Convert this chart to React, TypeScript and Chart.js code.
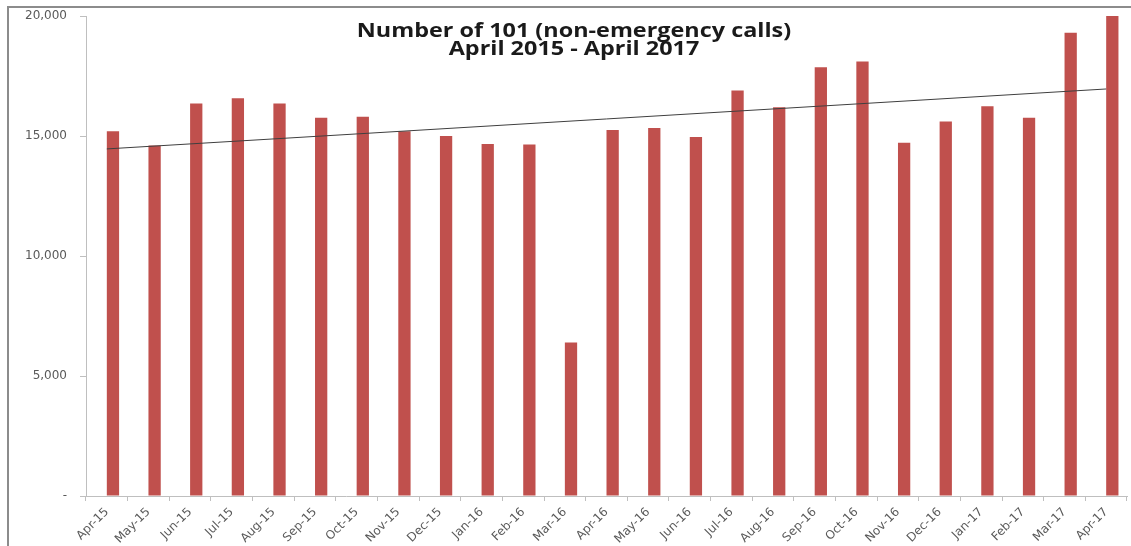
import React, { useEffect, useRef } from 'react';
import { Chart, registerables } from 'chart.js';

Chart.register(...registerables);

// Monthly 101 call volumes, April 2015 to April 2017
const months = [
  'Apr-15', 'May-15', 'Jun-15', 'Jul-15', 'Aug-15', 'Sep-15', 'Oct-15', 'Nov-15', 'Dec-15',
  'Jan-16', 'Feb-16', 'Mar-16', 'Apr-16', 'May-16', 'Jun-16', 'Jul-16', 'Aug-16', 'Sep-16',
  'Oct-16', 'Nov-16', 'Dec-16', 'Jan-17', 'Feb-17', 'Mar-17', 'Apr-17',
];

const calls = [
  15200, 14600, 16350, 16570, 16350, 15760, 15800, 15200, 15000,
  14670, 14650, 6400, 15250, 15330, 14960, 16900, 16200, 17860,
  18100, 14720, 15600, 16240, 15760, 19300, 20000,
];

const yTicks = [0, 5000, 10000, 15000, 20000];

const titleLines = ['Number of 101 (non-emergency calls)', 'April 2015 - April 2017'];

// Least-squares linear trend through the monthly values (drawn end to end)
function linearTrend(values: number[]): (number | null)[] {
  const n = values.length;
  const meanX = (n - 1) / 2;
  const meanY = values.reduce((s, v) => s + v, 0) / n;
  let sxy = 0;
  let sxx = 0;
  values.forEach((v, i) => {
    sxy += (i - meanX) * (v - meanY);
    sxx += (i - meanX) * (i - meanX);
  });
  const slope = sxy / sxx;
  const intercept = meanY - slope * meanX;
  return values.map((_, i) => (i === 0 || i === n - 1 ? intercept + slope * i : null));
}

const BAR_RED = '#C0504D';
const AXIS_GREY = '#BFBFBF';
const FRAME_GREY = '#8C8C8C';
const LABEL_GREY = '#595959';
const TITLE_FONT = "'Open Sans', 'Noto Sans', sans-serif";
const AXIS_FONT = "'DejaVu Sans', 'Open Sans', sans-serif";

// target plot-area edges inside the 1131 x 546 canvas
const PLOT_TOP = 16;
const PLOT_RIGHT = 1127;

export default function App() {
  const canvasRef = useRef<HTMLCanvasElement | null>(null);

  useEffect(() => {
    const canvas = canvasRef.current;
    if (!canvas) return;
    const padding = { left: 0, right: 4, top: PLOT_TOP, bottom: 0 };
    const chart = new Chart(canvas, {
      type: 'bar',
      data: {
        labels: months,
        datasets: [
          {
            type: 'line',
            label: 'Linear trend',
            data: linearTrend(calls),
            borderColor: '#3F3F3F',
            borderWidth: 1,
            pointRadius: 0,
            spanGaps: true,
            order: 0,
          },
          {
            // empty first slot of each category cluster
            type: 'bar',
            label: '',
            data: months.map(() => null),
            backgroundColor: BAR_RED,
            order: 1,
          },
          {
            type: 'bar',
            label: '101 calls',
            data: calls,
            backgroundColor: BAR_RED,
            order: 1,
          },
        ],
      },
      options: {
        responsive: false,
        animation: false,
        devicePixelRatio: 1,
        layout: { autoPadding: false, padding },
        datasets: {
          bar: { categoryPercentage: 0.59, barPercentage: 1.0 },
        },
        plugins: {
          legend: { display: false },
          title: { display: false },
          tooltip: { enabled: false },
        },
        scales: {
          x: {
            type: 'category',
            offset: true,
            grid: {
              offset: true,
              drawOnChartArea: false,
              drawTicks: true,
              tickLength: 5,
              color: AXIS_GREY,
            },
            border: { color: AXIS_GREY, width: 1 },
            ticks: {
              autoSkip: false,
              maxRotation: 45,
              minRotation: 45,
              padding: 4,
              color: LABEL_GREY,
              font: { family: AXIS_FONT, size: 12 },
            },
            afterFit: (scale: any) => {
              scale.height = 50;
              scale.paddingTop = 0;
            },
          },
          y: {
            min: 0,
            max: 20000,
            afterBuildTicks: (scale: any) => {
              scale.ticks = yTicks.map((v) => ({ value: v }));
            },
            grid: {
              drawOnChartArea: false,
              drawTicks: true,
              tickLength: 6,
              color: AXIS_GREY,
            },
            border: { color: AXIS_GREY, width: 1 },
            ticks: {
              padding: 13,
              color: LABEL_GREY,
              font: { family: AXIS_FONT, size: 12 },
              callback: (v: any) => (Number(v) === 0 ? '-' : Number(v).toLocaleString('en-US')),
            },
            afterFit: (scale: any) => {
              scale.width = 86;
              // the top label may overhang the plot area
              scale.paddingTop = 0;
            },
          },
        },
      },
    });
    // nudge the layout padding until the plot area sits on its target edges
    for (let i = 0; i < 3; i++) {
      const ca = chart.chartArea;
      const dTop = PLOT_TOP - ca.top;
      const dRight = ca.right - PLOT_RIGHT;
      if (Math.abs(dTop) < 0.5 && Math.abs(dRight) < 0.5) break;
      padding.top += dTop;
      padding.right += dRight;
      (chart.options.layout as any).padding = { ...padding };
      chart.update();
    }
    return () => chart.destroy();
  }, []);

  return (
    <div
      style={{
        position: 'fixed',
        left: 0,
        top: 0,
        width: 1131,
        height: 546,
        overflow: 'hidden',
        background: '#ffffff',
      }}
    >
      {/* outer chart frame: top and left edges */}
      <div
        style={{
          position: 'absolute',
          left: 7,
          top: 6,
          width: 1124,
          height: 1.5,
          background: FRAME_GREY,
        }}
      />
      <div
        style={{
          position: 'absolute',
          left: 7,
          top: 6,
          width: 1.5,
          height: 540,
          background: FRAME_GREY,
        }}
      />
      <canvas
        ref={canvasRef}
        width={1131}
        height={546}
        style={{ position: 'absolute', left: 0, top: 0 }}
      />
      <div
        style={{
          position: 'absolute',
          left: 324,
          top: 21,
          width: 500,
          textAlign: 'center',
          fontFamily: TITLE_FONT,
          fontWeight: 700,
          fontSize: 20,
          lineHeight: '17.5px',
          color: '#1A1A1A',
          transform: 'scaleX(1.17)',
          transformOrigin: '250px 0',
        }}
      >
        {titleLines.map((t) => (
          <div key={t}>{t}</div>
        ))}
      </div>
    </div>
  );
}
